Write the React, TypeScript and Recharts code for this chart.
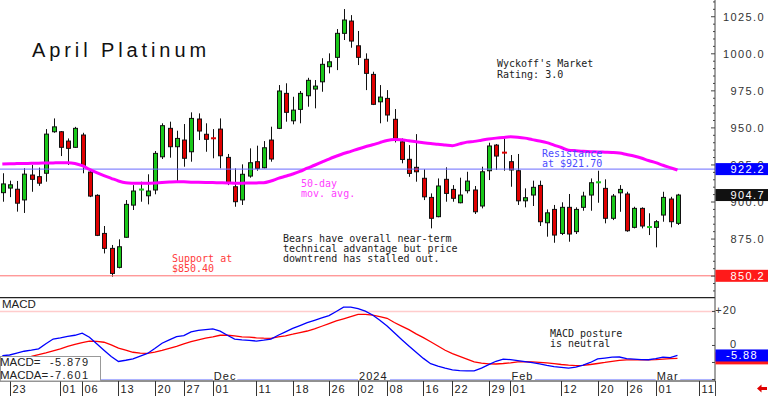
import React from 'react';
import { ComposedChart, Bar, Line, XAxis, YAxis, ReferenceLine } from 'recharts';

// daily OHLC, Oct 20 2023 .. Mar 5 2024
const opens = [
  906.3, 909.4, 908.6, 901.4, 918.2, 917.1, 919.4, 947.4, 947.4, 941.1,
  936.9, 945.2, 920.2, 904.5, 878.8, 868.7, 855.9, 876.2, 897.9, 908.0,
  904.2, 908.1, 930.5, 949.7, 937.3, 941.8, 933.9, 956.0, 945.7, 943.0,
  949.2, 930.1, 910.3, 901.4, 917.5, 927.2, 923.1, 941.8, 949.7, 973.3,
  954.8, 962.5, 971.7, 976.2, 981.1, 991.3, 997.6, 1013.8, 1022.1, 1005.4,
  996.3, 986.1, 967.6, 969.9, 955.8, 940.6, 928.8, 923.4, 916.0, 903.1,
  890.1, 915.3, 908.5, 899.5, 907.6, 908.1, 897.3, 921.1, 938.4, 933.3,
  927.2, 921.1, 900.8, 904.7, 911.2, 886.0, 895.0, 878.8, 896.4, 880.0,
  896.4, 904.7, 912.9, 909.2, 889.0, 906.2, 905.4, 882.9, 895.7, 882.8,
  882.9, 891.2, 902.0, 885.6,
];
const highs = [
  919.4, 914.4, 914.2, 922.8, 925.0, 923.2, 949.2, 956.4, 947.9, 942.9,
  950.7, 946.7, 920.9, 905.2, 883.8, 871.0, 874.8, 901.3, 911.4, 913.7,
  918.7, 934.4, 953.1, 954.2, 948.1, 952.6, 960.5, 959.8, 953.1, 949.2,
  956.4, 932.4, 922.7, 925.4, 936.2, 938.0, 941.1, 950.8, 978.9, 980.1,
  971.0, 974.9, 983.8, 982.3, 997.0, 1000.3, 1016.7, 1030.2, 1026.1, 1015.4,
  1000.3, 987.9, 978.9, 975.5, 962.7, 942.9, 938.4, 945.8, 922.1, 905.8,
  915.9, 923.4, 911.4, 916.4, 920.4, 910.8, 923.8, 940.0, 939.1, 943.6,
  931.7, 932.4, 909.2, 914.4, 914.4, 895.0, 898.0, 899.8, 905.4, 896.4,
  906.9, 915.9, 921.1, 915.3, 905.4, 911.4, 906.9, 896.8, 896.4, 892.4,
  887.8, 906.9, 903.5, 905.5,
];
const lows = [
  900.2, 903.3, 893.5, 892.6, 906.9, 910.9, 913.7, 946.7, 931.0, 925.0,
  936.6, 919.4, 903.3, 877.0, 865.3, 849.6, 855.2, 875.9, 894.6, 900.2,
  898.4, 905.2, 929.0, 929.9, 914.1, 923.8, 927.2, 941.8, 933.9, 929.5,
  922.7, 911.4, 896.8, 898.0, 916.4, 921.1, 922.7, 927.2, 949.2, 954.2,
  952.4, 953.1, 964.3, 963.2, 974.4, 986.8, 989.0, 1009.3, 1004.1, 992.4,
  975.5, 965.4, 953.1, 954.2, 940.2, 926.1, 917.0, 913.7, 901.3, 882.2,
  889.7, 900.2, 900.2, 899.1, 905.8, 891.9, 895.7, 914.8, 921.6, 921.1,
  910.3, 898.0, 896.4, 897.3, 883.8, 876.6, 872.5, 877.7, 873.2, 878.4,
  894.1, 894.1, 899.5, 885.6, 887.8, 893.4, 879.9, 882.2, 882.2, 877.7,
  869.4, 886.7, 882.9, 884.5,
];
const closes = [
  912.2, 911.6, 899.2, 918.8, 915.3, 912.7, 945.8, 950.7, 936.9, 936.2,
  949.7, 924.5, 904.0, 877.5, 868.7, 851.8, 869.8, 898.4, 907.4, 908.4,
  907.4, 932.8, 951.5, 937.3, 942.9, 929.5, 956.4, 947.9, 942.3, 942.6,
  931.2, 913.2, 900.2, 918.7, 926.5, 922.7, 936.6, 929.0, 974.9, 960.5,
  962.0, 973.3, 982.1, 978.2, 992.9, 994.6, 1013.8, 1022.8, 1008.6, 997.6,
  986.8, 965.9, 970.8, 958.7, 942.9, 928.7, 919.3, 920.4, 903.5, 889.0,
  910.8, 905.8, 902.5, 904.7, 914.1, 893.4, 920.4, 937.8, 931.0, 932.9,
  921.6, 900.8, 902.9, 909.9, 886.7, 892.7, 877.7, 896.4, 878.4, 895.0,
  904.0, 913.0, 913.3, 889.0, 904.0, 908.5, 880.6, 895.7, 883.8, 883.1,
  886.7, 903.1, 886.7, 904.7,
];
// 50-day moving average
const ma50 = [
  925.6, 925.8, 925.9, 926.0, 926.1, 926.2, 926.3, 926.4, 926.5, 926.5,
  926.0, 924.5, 922.0, 919.8, 917.8, 916.0, 914.2, 913.0, 912.7, 912.6,
  912.6, 912.8, 913.2, 913.5, 913.7, 913.6, 913.4, 913.3, 913.2, 913.1,
  913.0, 912.9, 912.7, 912.7, 912.8, 912.9, 913.0, 914.2, 915.9, 917.4,
  918.9, 920.6, 922.8, 924.8, 926.9, 929.0, 930.9, 932.7, 934.2, 935.8,
  937.3, 938.6, 940.1, 941.5, 942.1, 942.0, 941.3, 940.7, 940.0, 939.4,
  939.0, 938.5, 938.0, 939.2, 940.4, 940.9, 941.7, 942.5, 943.1, 943.6,
  944.0, 943.7, 943.1, 942.1, 941.2, 940.1, 938.4, 936.8, 935.0, 934.6,
  934.2, 933.9, 933.8, 933.6, 933.4, 933.0, 932.0, 931.0, 929.7, 928.0,
  926.6, 924.8, 923.2, 921.6,
];
const macdLine = [
  -6.0, -5.6, -4.5, -3.4, -2.8, -2.0, 1.0, 3.8, 4.5, 5.3,
  6.0, 7.2, 4.8, 1.0, -2.8, -6.5, -9.4, -8.7, -7.9, -6.3,
  -4.7, -1.8, 1.3, 3.3, 5.2, 5.8, 8.0, 8.9, 9.3, 9.7,
  8.4, 6.0, 3.7, 3.3, 3.0, 2.6, 3.1, 3.7, 6.0, 8.0,
  10.0, 11.7, 13.4, 14.8, 16.2, 17.6, 20.0, 22.5, 22.6, 21.6,
  20.2, 17.9, 14.8, 11.5, 7.5, 3.5, -0.3, -4.0, -7.6, -10.7,
  -12.1, -13.3, -14.3, -14.8, -14.9, -15.0, -13.3, -11.3, -9.3, -8.0,
  -8.3, -8.9, -9.5, -10.1, -10.8, -11.7, -12.5, -12.9, -13.3, -12.8,
  -11.5, -10.0, -7.9, -7.4, -6.9, -6.8, -7.8, -8.0, -8.3, -8.4,
  -7.7, -6.9, -7.2, -5.88,
];
const macdAvg = [
  -8.5, -8.2, -7.8, -7.2, -6.4, -5.4, -4.4, -3.2, -2.0, -0.6,
  0.6, 1.7, 2.6, 2.4, 1.9, 0.3, -1.6, -2.8, -4.0, -4.5,
  -4.6, -3.9, -2.9, -1.7, -0.5, 0.9, 2.2, 3.3, 4.3, 5.1,
  6.0, 6.0, 5.6, 5.1, 4.9, 4.5, 4.3, 4.2, 5.0, 5.7,
  6.6, 7.6, 8.5, 9.8, 11.3, 12.9, 14.4, 15.7, 17.0, 18.3,
  18.3, 17.8, 17.0, 16.0, 13.5, 11.4, 9.3, 6.8, 4.6, 2.2,
  -0.3, -2.8, -4.8, -6.4, -8.0, -9.6, -10.4, -10.8, -10.9, -10.6,
  -10.2, -9.7, -9.5, -9.7, -10.0, -10.3, -10.7, -11.2, -11.6, -11.9,
  -11.7, -11.2, -10.6, -10.0, -9.3, -8.8, -8.5, -8.5, -8.5, -8.5,
  -8.3, -8.0, -7.8, -7.6,
];

const dayTicks = [1, 8, 11, 16, 21, 25, 29, 35, 40, 45, 49, 53, 58, 62, 67, 70, 77, 82, 86, 90, 96];
const dayLabels = ['23', '01', '06', '13', '20', '27', '01', '11', '18', '26', '02', '08', '16', '22', '29', '01', '12', '20', '26', '01', '11'];
const monthTicks = [29, 49, 70, 90];
const monthLabels = ['Dec', '2024', 'Feb', 'Mar'];
const priceLabelTicks = [850, 875, 900, 925, 950, 975, 1000, 1025];

// last-value tags on the right axes
const priceTags = [922.2, 904.7, 850.2];
const priceTagColors = ['#0000ff', '#111111', '#ff1a1a'];
const macdLast = -5.879;
const macdaLast = -7.601;
const macdTags = [macdaLast, macdLast];
const macdTagColors = ['#ff1a1a', '#0000ff'];
const macdTagTexts = ['', '-5.88'];

const resistance = 922.2;
const support = 850.2;

const W = 768;
const PLOT_W = 715;
const X_DOMAIN: [number, number] = [-0.32, 98.17];
const PRICE_DOMAIN: [number, number] = [835.9, 1036.3];
const MACD_DOMAIN: [number, number] = [-20.9, 28.5];
const GREEN = '#19c819';
const RED = '#e00000';
const AXIS_FONT = "'Liberation Sans', Arial, sans-serif";
const NARROW_FONT = "'Liberation Sans Narrow', 'Liberation Sans', Arial, sans-serif";
const MONO_FONT = "'DejaVu Sans Mono', monospace";

const rows = opens.map((o, i) => ({
  i,
  o,
  h: highs[i],
  l: lows[i],
  c: closes[i],
  range: [lows[i], highs[i]],
  ma: ma50[i],
  macd: macdLine[i],
  sig: macdAvg[i],
}));

const minorTicks: number[] = [];
for (let v = 840; v <= 1035; v += 5) minorTicks.push(v);

const Candle = (props: any) => {
  const { x, y, width, height, payload } = props;
  if (x == null || !payload) return null;
  const { o, h, l, c } = payload;
  const cx = Math.round(x + width / 2) + 0.5;
  const k = height / (h - l || 1);
  const yOf = (v: number) => y + (h - v) * k;
  const top = yOf(Math.max(o, c));
  const bot = yOf(Math.min(o, c));
  const fill = c >= o ? GREEN : RED;
  return (
    <g>
      <line x1={cx} x2={cx} y1={y} y2={y + height} stroke="#111" strokeWidth={1} />
      {bot - top < 1.2 ? (
        <rect x={cx - 2.5} y={top - 1} width={5} height={2} fill={fill} />
      ) : (
        <rect x={cx - 2} y={top} width={4} height={bot - top} fill={fill} stroke="#111" strokeWidth={1} />
      )}
    </g>
  );
};

const PriceTick = (props: any) => {
  const { y, payload } = props;
  const v = payload.value;
  const major = priceLabelTicks.includes(v);
  return (
    <g>
      <line x1={PLOT_W - (major ? 4 : 2)} x2={PLOT_W} y1={y} y2={y} stroke="#444" />
      {major && (
        <text x={765} y={y + 4} textAnchor="end" fontSize={11} letterSpacing={1.4} fill="#333" fontFamily={AXIS_FONT}>
          {v.toFixed(1)}
        </text>
      )}
    </g>
  );
};

const MacdTick = (props: any) => {
  const { y, payload } = props;
  const v = payload.value;
  const label = v === 20 ? '+20' : v === 0 ? '0' : '';
  return (
    <g>
      <line x1={PLOT_W - 3} x2={PLOT_W} y1={y} y2={y} stroke="#444" />
      {label && (
        <text x={737} y={y + 3} textAnchor="end" fontSize={11} letterSpacing={1} fill="#333" fontFamily={AXIS_FONT}>
          {label}
        </text>
      )}
    </g>
  );
};

const TagTick = (props: any) => {
  const { y, index, colors, texts, right } = props;
  const txt = texts[index];
  return (
    <g>
      <rect x={PLOT_W + 0.5} y={y - 6} width={W - PLOT_W} height={12} fill={colors[index]} />
      {txt && (
        <text x={right} y={y + 4} textAnchor="end" fontSize={11} letterSpacing={1.4} fill="#fff" fontFamily={AXIS_FONT}>
          {txt}
        </text>
      )}
    </g>
  );
};

const DayTick = (props: any) => {
  const { x, payload } = props;
  const k = dayTicks.indexOf(payload.value);
  const cx = Math.round(x) + 0.5;
  return (
    <g>
      <line x1={cx} x2={cx} y1={84} y2={99} stroke="#333" />
      <text x={cx + 2} y={96} fontSize={11} letterSpacing={1} fill="#222" fontFamily={AXIS_FONT}>
        {dayLabels[k]}
      </text>
    </g>
  );
};

const MonthLabel = (props: any) => {
  const { viewBox, text } = props;
  if (!viewBox) return null;
  const x0 = viewBox.x;
  const yb = viewBox.y + viewBox.height;
  return (
    <g>
      <rect x={x0} y={yb - 11} width={text.length * 7.5 + 2} height={10.5} fill="#fff" />
      <text x={x0 + 1} y={yb - 1.5} fontSize={11} letterSpacing={1} fill="#222" fontFamily={AXIS_FONT}>
        {text}
      </text>
    </g>
  );
};

const mono = { fontFamily: MONO_FONT, fontSize: 10 };

export default function App() {
  return (
    <div style={{ position: 'absolute', left: 0, top: 0, width: W, height: 396, background: '#fff', overflow: 'hidden' }}>
      <ComposedChart width={W} height={297} data={rows} margin={{ top: 0, right: 0, bottom: 0, left: 0 }}>
        <XAxis dataKey="i" type="number" domain={X_DOMAIN} allowDataOverflow hide />
        <YAxis
          orientation="right"
          type="number"
          domain={PRICE_DOMAIN}
          allowDataOverflow
          ticks={minorTicks}
          interval={0}
          width={W - PLOT_W - 1}
          axisLine={{ stroke: '#444' }}
          tickLine={false}
          tick={(p: any) => <PriceTick {...p} />}
        />
        <YAxis
          yAxisId="tag"
          orientation="right"
          type="number"
          domain={PRICE_DOMAIN}
          allowDataOverflow
          ticks={priceTags}
          interval={0}
          width={1}
          axisLine={false}
          tickLine={false}
          tick={(p: any) => <TagTick {...p} colors={priceTagColors} texts={priceTags.map((v) => v.toFixed(1))} right={765} />}
        />
        <ReferenceLine y={resistance} stroke="#6a6aff" strokeWidth={1} />
        <ReferenceLine y={support} stroke="#ff7070" strokeWidth={1} />
        <Line dataKey="ma" type="monotone" stroke="#ff00ff" strokeWidth={3} strokeLinecap="butt" dot={false} activeDot={false} isAnimationActive={false} />
        <Bar dataKey="range" shape={Candle} barSize={6} isAnimationActive={false} />
      </ComposedChart>
      <ComposedChart width={W} height={99} data={rows} margin={{ top: 0, right: 0, bottom: 0, left: 0 }}>
        <XAxis
          dataKey="i"
          type="number"
          domain={X_DOMAIN}
          allowDataOverflow
          ticks={dayTicks}
          interval={0}
          height={15}
          axisLine={{ stroke: '#222' }}
          tickLine={false}
          tick={(p: any) => <DayTick {...p} />}
        />
        <YAxis
          orientation="right"
          type="number"
          domain={MACD_DOMAIN}
          allowDataOverflow
          ticks={[-20, -10, 0, 10, 20]}
          interval={0}
          width={W - PLOT_W - 1}
          axisLine={{ stroke: '#444' }}
          tickLine={false}
          tick={(p: any) => <MacdTick {...p} />}
        />
        <YAxis
          yAxisId="tag"
          orientation="right"
          type="number"
          domain={MACD_DOMAIN}
          allowDataOverflow
          ticks={macdTags}
          interval={0}
          width={1}
          axisLine={false}
          tickLine={false}
          tick={(p: any) => <TagTick {...p} colors={macdTagColors} texts={macdTagTexts} right={758} />}
        />
        <ReferenceLine y={28.2} stroke="#222" strokeWidth={1.5} />
        <ReferenceLine y={20} stroke="#ffcccc" strokeWidth={1.5} />
        <ReferenceLine y={-20} stroke="#aab0ff" strokeWidth={1} />
        {monthTicks.map((m, k) => (
          <ReferenceLine key={m} x={m} stroke="none" label={<MonthLabel text={monthLabels[k]} />} />
        ))}
        <Line dataKey="sig" type="linear" stroke="#ff0000" strokeWidth={1.3} dot={false} activeDot={false} isAnimationActive={false} />
        <Line dataKey="macd" type="linear" stroke="#0000ff" strokeWidth={1.3} dot={false} activeDot={false} isAnimationActive={false} />
      </ComposedChart>
      <svg width={W} height={396} style={{ position: 'absolute', left: 0, top: 0, pointerEvents: 'none' }}>
        <text x={32} y={56.5} fontSize={20} letterSpacing={3.9} fill="#111" fontFamily={AXIS_FONT}>
          April Platinum
        </text>
        <g {...mono} fill="#222">
          <text x={497} y={67}>Wyckoff's Market</text>
          <text x={497} y={77.5}>Rating: 3.0</text>
          <text x={283} y={242}>Bears have overall near-term</text>
          <text x={283} y={252}>technical advantage but price</text>
          <text x={283} y={262}>downtrend has stalled out.</text>
          <text x={550} y={336.5}>MACD posture</text>
          <text x={550} y={347}>is neutral</text>
        </g>
        <g {...mono} fill="#4b4bff">
          <text x={542} y={157}>Resistance</text>
          <text x={542} y={167}>at $921.70</text>
        </g>
        <g {...mono} fill="#ff40ff">
          <text x={301} y={186.5}>50-day</text>
          <text x={301} y={197}>mov. avg.</text>
        </g>
        <g {...mono} fill="#ff3b3b">
          <text x={172} y={262}>Support at</text>
          <text x={172} y={272}>$850.40</text>
        </g>
        <text x={2} y={307.7} fontSize={11.5} fill="#222" fontFamily={NARROW_FONT}>MACD</text>
        <rect x={0.5} y={356.5} width={100} height={24.5} fill="#fff" stroke="#999" />
        <text x={0} y={366} fontSize={11.5} fill="#222" fontFamily={NARROW_FONT}>MACD=</text>
        <text x={0} y={378.5} fontSize={11.5} fill="#222" fontFamily={NARROW_FONT}>MACDA=</text>
        <text x={50} y={366} fontSize={11} letterSpacing={1.4} fill="#222" fontFamily={AXIS_FONT}>{macdLast.toFixed(3)}</text>
        <text x={50} y={378.5} fontSize={11} letterSpacing={1.4} fill="#222" fontFamily={AXIS_FONT}>{macdaLast.toFixed(3)}</text>
        <line x1={PLOT_W + 0.5} x2={PLOT_W + 0.5} y1={381} y2={396} stroke="#444" />
        <polygon points="757,388.5 761.5,384.5 761.5,387 767,387 767,390 761.5,390 761.5,392.5" fill="#e00000" />
      </svg>
    </div>
  );
}
